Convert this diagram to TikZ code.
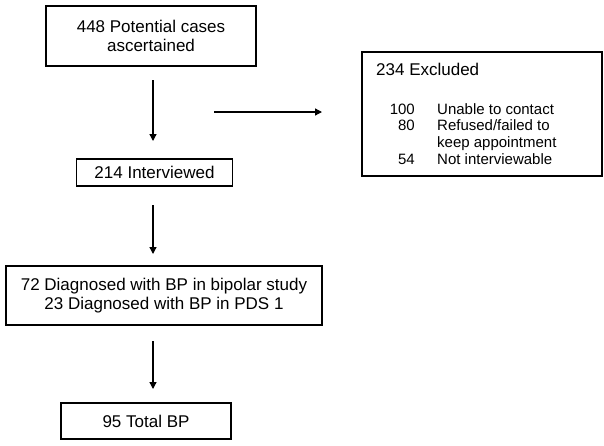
\documentclass[tikz,border=0pt]{standalone}
\usepackage{fontspec}
\setmainfont{Liberation Sans}
\usetikzlibrary{arrows.meta}
\begin{document}
\begin{tikzpicture}[x=1pt,y=-1pt,
  box/.style={draw=black,line width=1.3pt,inner sep=0pt,align=center,
    font=\fontsize{17}{19.5}\selectfont},
  arr/.style={line width=1.3pt,-{Triangle[length=7pt,width=7pt]}},
  lbl/.style={inner sep=0pt,font=\fontsize{15}{17}\selectfont}]
\useasboundingbox[fill=white] (0,0) rectangle (604,445);
\node[box,minimum width=210pt,minimum height=60pt] (b1) at (151,36) {448 Potential cases\\ascertained};
\node[box,minimum width=156pt,minimum height=27pt] (b2) at (154.5,172.5) {214 Interviewed};
\node[box,minimum width=316pt,minimum height=59pt] (b3) at (164,295.5) {72 Diagnosed with BP in bipolar study\\23 Diagnosed with BP in PDS 1};
\node[box,minimum width=170pt,minimum height=36pt] (b4) at (146,421) {95 Total BP};
\node[box,minimum width=240pt,minimum height=124pt] (ex) at (482,114) {};
\node[lbl,anchor=base west,font=\fontsize{17}{19.5}\selectfont] (exh) at (376,75) {234 Excluded};
\node[lbl,anchor=base east] (n1) at (415,114) {100};
\node[lbl,anchor=base west] (t1) at (437,114) {Unable to contact};
\node[lbl,anchor=base east] (n2) at (415,130.7) {80};
\node[lbl,anchor=base west] (t2) at (437,130.7) {Refused/failed to};
\node[lbl,anchor=base west] (t2b) at (437,147.7) {keep appointment};
\node[lbl,anchor=base east] (n3) at (415,164.3) {54};
\node[lbl,anchor=base west] (t3) at (437,164.3) {Not interviewable};
\coordinate (a1s) at (153,80);  \coordinate (a1e) at (153,141);
\coordinate (a2s) at (153,205); \coordinate (a2e) at (153,254);
\coordinate (a3s) at (153,341); \coordinate (a3e) at (153,389);
\coordinate (hs) at (214,112);  \coordinate (he) at (322,112);
\draw[arr] (a1s) -- (a1e);
\draw[arr] (a2s) -- (a2e);
\draw[arr] (a3s) -- (a3e);
\draw[arr] (hs) -- (he);
\end{tikzpicture}
\end{document}
